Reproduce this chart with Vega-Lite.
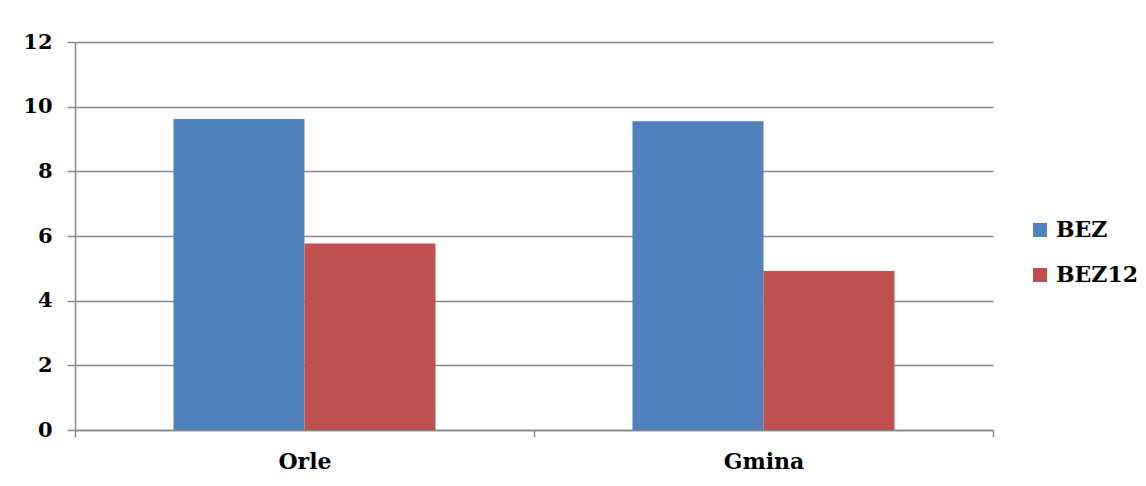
{
  "$schema": "https://vega.github.io/schema/vega-lite/v6.json",
  "autosize": {"type": "none"},
  "width": 918,
  "height": 388,
  "padding": {"left": 75, "top": 42, "right": 153, "bottom": 56},
  "background": "white",
  "data": {
    "values": [
      {"place": "Orle", "series": "BEZ", "value": 9.62},
      {"place": "Orle", "series": "BEZ12", "value": 5.77},
      {"place": "Gmina", "series": "BEZ", "value": 9.55},
      {"place": "Gmina", "series": "BEZ12", "value": 4.92}
    ]
  },
  "mark": {"type": "bar"},
  "encoding": {
    "x": {
      "field": "place",
      "type": "nominal",
      "sort": ["Orle", "Gmina"],
      "scale": {"paddingInner": 0, "paddingOuter": 0},
      "axis": {
        "title": null,
        "labelAngle": 0,
        "labelFont": "DejaVu Serif",
        "labelFontWeight": "bold",
        "labelFontSize": 22,
        "labelColor": "black",
        "labelPadding": 14,
        "tickBand": "extent",
        "tickSize": 7,
        "tickColor": "#888888",
        "tickWidth": 1.5,
        "domainColor": "#888888",
        "domainWidth": 1.5,
        "grid": false
      }
    },
    "xOffset": {"field": "series", "type": "nominal", "scale": {"paddingInner": 0, "paddingOuter": 0.752}},
    "y": {
      "field": "value",
      "type": "quantitative",
      "scale": {"domain": [0, 12], "nice": false},
      "axis": {
        "title": null,
        "values": [0, 2, 4, 6, 8, 10, 12],
        "labelFont": "DejaVu Serif",
        "labelFontWeight": "bold",
        "labelFontSize": 21,
        "labelColor": "black",
        "labelPadding": 15,
        "tickSize": 8,
        "tickColor": "#888888",
        "tickWidth": 1.5,
        "domainColor": "#888888",
        "domainWidth": 1.5,
        "grid": true,
        "gridColor": "#888888",
        "gridWidth": 1.5,
        "gridOpacity": 1
      }
    },
    "color": {
      "field": "series",
      "type": "nominal",
      "scale": {"domain": ["BEZ", "BEZ12"], "range": ["#4F81BD", "#C0504D"]},
      "legend": {
        "title": null,
        "orient": "none",
        "legendX": 954,
        "legendY": 177,
        "symbolType": "square",
        "symbolSize": 196,
        "symbolStrokeWidth": 0,
        "symbolOpacity": 1,
        "labelFont": "DejaVu Serif",
        "labelFontWeight": "bold",
        "labelFontSize": 22,
        "labelColor": "black",
        "labelOffset": 5,
        "rowPadding": 23,
        "padding": 0
      }
    }
  },
  "config": {
    "view": {"stroke": null}
  }
}
